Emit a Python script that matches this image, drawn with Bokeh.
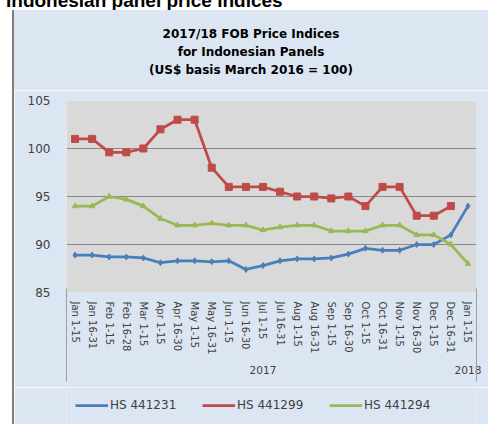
from bokeh.plotting import figure
from bokeh.models import (FactorRange, FixedTicker, Legend, LegendItem, Div,
                          ColumnDataSource, CategoricalAxis)
from bokeh.layouts import column, row
from bokeh.embed import file_html
from bokeh.resources import INLINE

# ---- data -------------------------------------------------------------
periods = ["Jan 1-15", "Jan 16-31", "Feb 1-15", "Feb 16-28", "Mar 1-15",
           "Apr 1-15", "Apr 16-30", "May 1-15", "May 16-31", "Jun 1-15",
           "Jun 16-30", "Jul 1-15", "Jul 16-31", "Aug 1-15", "Aug 16-31",
           "Sep 1-15", "Sep 16-30", "Oct 1-15", "Oct 16-31", "Nov 1-15",
           "Nov 16-30", "Dec 1-15", "Dec 16-31", "Jan 1-15"]
years = ["2017"] * 23 + ["2018"]

hs441231 = [88.9, 88.9, 88.7, 88.7, 88.6, 88.1, 88.3, 88.3, 88.2, 88.3,
            87.4, 87.8, 88.3, 88.5, 88.5, 88.6, 89.0, 89.6, 89.4, 89.4,
            90.0, 90.0, 91.0, 94.0]
hs441299 = [101.0, 101.0, 99.6, 99.6, 100.0, 102.0, 103.0, 103.0, 98.0, 96.0,
            96.0, 96.0, 95.5, 95.0, 95.0, 94.8, 95.0, 94.0, 96.0, 96.0,
            93.0, 93.0, 94.0, float("nan")]
hs441294 = [94.0, 94.0, 95.0, 94.7, 94.0, 92.7, 92.0, 92.0, 92.2, 92.0,
            92.0, 91.5, 91.8, 92.0, 92.0, 91.4, 91.4, 91.4, 92.0, 92.0,
            91.0, 91.0, 90.0, 88.0]

series_names = ["HS 441231", "HS 441299", "HS 441294"]
y_ticks = [85, 90, 95, 100, 105]
grid_ticks = [90, 95, 100]
title_lines = ["2017/18 FOB Price Indices", "for Indonesian Panels",
               "(US$ basis March 2016 = 100)"]
heading = "Indonesian panel price indices"

CHART_BG = "#dce6f2"
blue, red, green = "#4a7ebb", "#be4b48", "#98b954"
colors = [blue, red, green]

# ---- main figure ------------------------------------------------------
factors = list(zip(years, periods))
x_range = FactorRange(*factors, range_padding=0, group_padding=0,
                      factor_padding=0, subgroup_padding=0)

p = figure(width=474, height=297, x_range=x_range, y_range=(85, 105),
           output_backend="svg", toolbar_location=None,
           min_border_left=52, min_border_right=12,
           min_border_top=10, min_border_bottom=95)
p.background_fill_color = "#d9d9d9"
p.border_fill_color = CHART_BG
p.outline_line_color = None

src = ColumnDataSource(dict(x=factors, a=hs441231, b=hs441299, c=hs441294))

p.line("x", "a", source=src, color=blue, line_width=2.75)
p.scatter("x", "a", source=src, marker="diamond", size=6, color=blue)
p.line("x", "b", source=src, color=red, line_width=2.75)
p.scatter("x", "b", source=src, marker="square", size=7, color=red)
p.line("x", "c", source=src, color=green, line_width=2.75)
p.scatter("x", "c", source=src, marker="triangle", size=5.5, color=green)

# y axis
p.yaxis.ticker = FixedTicker(ticks=y_ticks)
p.ygrid.ticker = FixedTicker(ticks=grid_ticks)
p.ygrid.grid_line_color = "#888888"
p.ygrid.grid_line_width = 1
p.xgrid.grid_line_color = None
p.yaxis.axis_line_color = None
p.yaxis.major_tick_line_color = None
p.yaxis.major_tick_out = 0
p.yaxis.minor_tick_line_color = None
p.yaxis.major_label_standoff = 16
p.yaxis.major_label_text_font = "DejaVu Sans"
p.yaxis.major_label_text_font_size = "12px"
p.yaxis.major_label_text_color = "#404040"

# category axis
xa = p.xaxis[0]
xa.axis_line_color = None
xa.major_tick_line_color = None
xa.major_tick_out = 0
xa.major_label_orientation = "vertical"
xa.major_label_standoff = 9
xa.major_label_text_font = "DejaVu Sans"
xa.major_label_text_font_size = "10px"
xa.major_label_text_color = "#404040"
xa.group_text_font = "DejaVu Sans"
xa.group_text_font_size = "10.5px"
xa.group_text_font_style = "normal"
xa.group_text_color = "#404040"
xa.separator_line_color = None

# thin end lines of the category axis (ticks of a 2-factor helper axis
# whose factor centres sit on the two ends of the frame)
p.extra_x_ranges = {"edges": FactorRange("start", "end", range_padding=-0.499,
                                         range_padding_units="absolute")}
edge_axis = CategoricalAxis(x_range_name="edges",
                            axis_line_color=None,
                            major_tick_line_color="#a0a0a0",
                            major_tick_in=89, major_tick_out=4,
                            major_label_text_font_size="0px",
                            major_label_text_color=None,
                            major_label_standoff=0)
p.add_layout(edge_axis, "below")

# ---- legend strip -----------------------------------------------------
pl = figure(width=474, height=37, x_range=(0, 1), y_range=(0, 1),
            output_backend="svg", toolbar_location=None,
            x_axis_location=None, y_axis_location=None, min_border=0)
pl.grid.visible = False
pl.background_fill_color = CHART_BG
pl.border_fill_color = CHART_BG
pl.outline_line_color = None
# sample lines for the legend only (their points lie outside the view)
leg_renderers = [pl.line(x=[5, 6], y=[5, 6], color=c, line_width=2.75)
                 for c in colors]
legend = Legend(items=[LegendItem(label=n, renderers=[r])
                       for n, r in zip(series_names, leg_renderers)],
                orientation="horizontal", location=(9, 9),
                border_line_color=None, background_fill_alpha=0,
                padding=0, margin=0, spacing=22, glyph_width=33,
                glyph_height=20, label_height=20, label_standoff=2,
                label_width=70,
                label_text_font="DejaVu Sans", label_text_font_size="12px",
                label_text_color="#404040")
pl.add_layout(legend)

# ---- surrounding page elements ----------------------------------------
heading_div = Div(text=heading, width=482, height=19, margin=(-9, 0, 0, 6),
                  styles={"font-family": "Liberation Sans", "font-size": "19px",
                          "font-weight": "bold", "line-height": "19px",
                          "white-space": "nowrap", "color": "black"})
border_div = Div(text="", width=2, height=414, margin=(0, 0, 0, 12),
                 styles={"background-color": "#7f7f7f"})
title_div = Div(text='<div style="padding-top:15px">' + "<br>".join(
                    t.replace("$", "&#36;") for t in title_lines) + "</div>",
                width=474, height=80, margin=0,
                styles={"background-color": CHART_BG, "text-align": "center",
                        "font-family": "DejaVu Sans", "font-size": "12px",
                        "font-weight": "bold", "line-height": "18px",
                        "color": "black"})

layout = column(heading_div, row(border_div, column(title_div, p, pl)))

open("out.html", "w").write(file_html(layout, INLINE))
